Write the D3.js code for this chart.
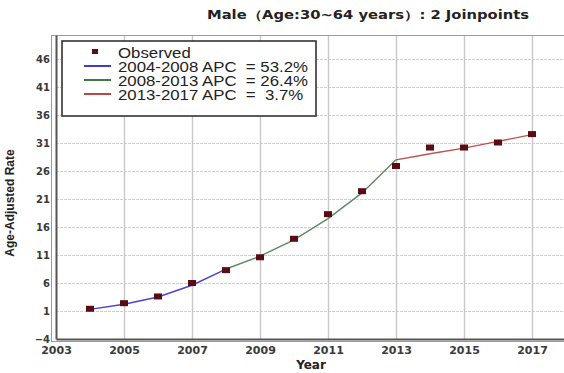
<!DOCTYPE html>
<html>
<head>
<meta charset="utf-8">
<script src="https://cdn.jsdelivr.net/npm/d3@7"></script>
<style>
  html, body { margin: 0; padding: 0; background: #fff; }
  svg { display: block; }
</style>
</head>
<body>
<svg id="chart" width="564" height="373"></svg>
<script>
// Observed age-adjusted rates by year
const years = [2004, 2005, 2006, 2007, 2008, 2009, 2010, 2011, 2012, 2013, 2014, 2015, 2016, 2017];
const observed = [1.4, 2.4, 3.6, 6.0, 8.3, 10.6, 13.9, 18.3, 22.4, 26.9, 30.2, 30.2, 31.1, 32.6];

// Joinpoint model: fitted values for each segment
const seg1Years = [2004, 2005, 2006, 2007, 2008];
const seg1Fit = [1.3, 2.2, 3.5, 5.6, 8.5];
const seg2Years = [2008, 2009, 2010, 2011, 2012, 2013];
const seg2Fit = [8.5, 10.8, 13.7, 17.5, 22.1, 28.0];
const seg3Years = [2013, 2014, 2015, 2016, 2017];
const seg3Fit = [28.0, 29.1, 30.1, 31.3, 32.5];

const legendLabels = ["Observed", "2004-2008 APC  = 53.2%", "2008-2013 APC  = 26.4%", "2013-2017 APC  =  3.7%"];
const segColors = ["#4a44cc", "#5f8a5f", "#c0504f"];
const legendColors = ["#2a28c8", "#2c6a2c", "#b83030"];

const xTicks = [2003, 2005, 2007, 2009, 2011, 2013, 2015, 2017];
const yTicks = [-4, 1, 6, 11, 16, 21, 26, 31, 36, 41, 46];

const svg = d3.select("#chart");

const x = d3.scaleLinear().domain([2003, 2018]).range([56, 566]);
const y = d3.scaleLinear().domain([-4, 50.3]).range([339, 35]);

// plot frame
svg.append("rect")
  .attr("x", 51.5).attr("y", 35.5)
  .attr("width", 520).attr("height", 306)
  .attr("fill", "none").attr("stroke", "#9a9a9a").attr("stroke-width", 1);

// grid lines
const grid = svg.append("g");
grid.selectAll("line.h").data(yTicks.slice(1)).join("line")
  .attr("x1", 56).attr("x2", 564)
  .attr("y1", d => Math.round(y(d)) + 0.5).attr("y2", d => Math.round(y(d)) + 0.5)
  .attr("stroke", "#cfcfcf").attr("stroke-width", 1.2).attr("stroke-dasharray", "3,1");
grid.selectAll("line.v").data(xTicks.slice(1)).join("line")
  .attr("y1", 36).attr("y2", 339)
  .attr("x1", d => Math.round(x(d)) + 0.5).attr("x2", d => Math.round(x(d)) + 0.5)
  .attr("stroke", "#c8c8c8").attr("stroke-width", 1.4);

// axes
const xAxis = d3.axisBottom(x).tickValues(xTicks).tickFormat(d3.format("d")).tickSize(0).tickPadding(7);
const yAxis = d3.axisLeft(y).tickValues(yTicks).tickSize(0).tickPadding(6);

const gx = svg.append("g").attr("transform", "translate(0,339)").call(xAxis);
const gy = svg.append("g").attr("transform", "translate(56,0)").call(yAxis);
gx.select(".domain").attr("stroke", "#555").attr("stroke-width", 2);
gy.select(".domain").attr("stroke", "#555").attr("stroke-width", 2);
gx.selectAll("text").attr("font-family", "DejaVu Sans, Verdana, sans-serif")
  .attr("font-size", 11).attr("font-weight", "bold").attr("fill", "#3a3a3a");
gy.selectAll("text").attr("font-family", "DejaVu Sans, Verdana, sans-serif")
  .attr("font-size", 10).attr("font-weight", "bold").attr("fill", "#3a3a3a");

// fitted segments
const line = d3.line().x(d => x(d[0])).y(d => y(d[1]));
[[seg1Years, seg1Fit], [seg2Years, seg2Fit], [seg3Years, seg3Fit]].forEach((s, i) => {
  svg.append("path")
    .datum(d3.zip(s[0], s[1]))
    .attr("d", line)
    .attr("fill", "none")
    .attr("stroke", segColors[i])
    .attr("stroke-width", 1.4);
});

// observed markers
svg.selectAll("rect.obs").data(d3.zip(years, observed)).join("rect")
  .attr("class", "obs")
  .attr("x", d => x(d[0]) - 4).attr("y", d => y(d[1]) - 3)
  .attr("width", 8).attr("height", 6)
  .attr("fill", "#5a0c12");

// legend
const lg = svg.append("g");
lg.append("rect").attr("x", 62).attr("y", 41).attr("width", 254).attr("height", 75)
  .attr("fill", "#fff").attr("stroke", "#333").attr("stroke-width", 1.6);
lg.append("rect").attr("x", 92).attr("y", 49).attr("width", 6).attr("height", 5).attr("fill", "#5a0c12");
const rowY = [53, 67, 81, 95];
legendColors.forEach((c, i) => {
  lg.append("line").attr("x1", 84).attr("x2", 111)
    .attr("y1", rowY[i + 1] - 1).attr("y2", rowY[i + 1] - 1)
    .attr("stroke", c).attr("stroke-width", 1.8);
});
lg.append("g").attr("transform", "translate(118,0) scale(1.2,1)")
  .selectAll("text").data(legendLabels).join("text")
  .attr("x", 0).attr("y", (d, i) => rowY[i] + 5)
  .attr("font-family", "Liberation Sans, Arial, sans-serif")
  .attr("font-size", 14).attr("fill", "#222")
  .attr("xml:space", "preserve")
  .text(d => d);

// titles
svg.append("text").attr("x", 207).attr("y", 19)
  .attr("font-family", "DejaVu Sans, Verdana, sans-serif").attr("font-weight", "bold")
  .attr("font-size", 11.5).attr("fill", "#222")
  .attr("textLength", 322).attr("lengthAdjust", "spacingAndGlyphs")
  .text("Male（Age:30~64 years）: 2 Joinpoints");

svg.append("text").attr("x", 311).attr("y", 369).attr("text-anchor", "middle")
  .attr("font-family", "DejaVu Sans, Verdana, sans-serif").attr("font-weight", "bold")
  .attr("font-size", 12).attr("fill", "#222").text("Year");

svg.append("text").attr("transform", "translate(14,203) rotate(-90)").attr("text-anchor", "middle")
  .attr("font-family", "Liberation Sans Narrow, Liberation Sans, Arial, sans-serif").attr("font-weight", "bold")
  .attr("font-size", 12).attr("fill", "#222").text("Age-Adjusted Rate");
</script>
</body>
</html>
